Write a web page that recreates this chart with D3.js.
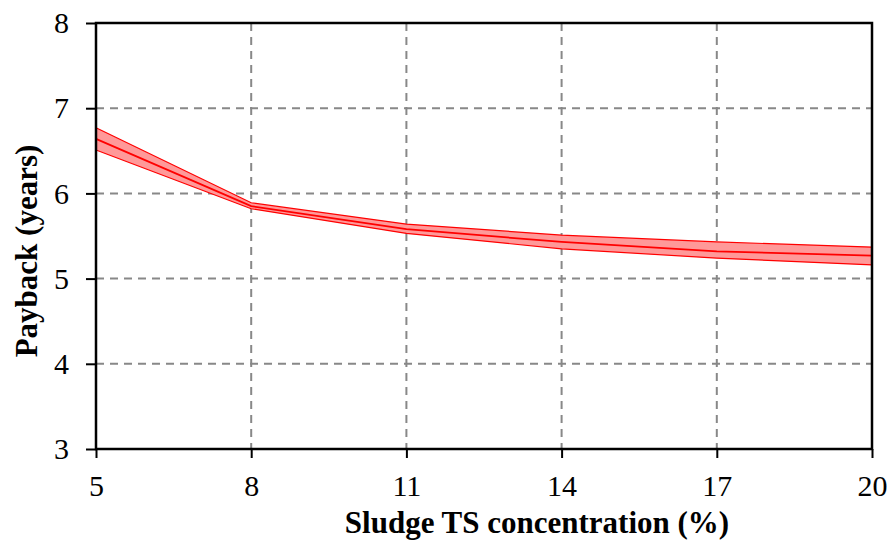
<!DOCTYPE html>
<html>
<head>
<meta charset="utf-8">
<script src="https://cdn.jsdelivr.net/npm/d3@7"></script>
<style>
  body { margin: 0; background: #fff; }
  svg { display: block; }
</style>
</head>
<body>
<div id="chart"></div>
<script>
// Donnees
var tsConc = [5, 8, 11, 14, 17, 20];
var payback = [6.64, 5.85, 5.58, 5.43, 5.32, 5.27];
var paybackHigh = [6.77, 5.89, 5.64, 5.51, 5.43, 5.37];
var paybackLow = [6.51, 5.82, 5.53, 5.35, 5.24, 5.16];
var xTicks = [5, 8, 11, 14, 17, 20];
var yTicks = [3, 4, 5, 6, 7, 8];

var serif = "'Liberation Serif', 'Times New Roman', serif";

// Dimensions
var W = 892, H = 543;
var margin = {top: 23, right: 20, bottom: 94, left: 96},
    width = 872 - margin.left,
    height = 449 - margin.top;

var svg = d3.select("#chart")
    .append("svg")
    .attr("width", W)
    .attr("height", H)
    .style("font-family", serif);

var g = svg.append("g")
    .attr("transform", "translate(" + margin.left + "," + margin.top + ")");

var x = d3.scaleLinear().domain([5, 20]).range([0, width]);
var y = d3.scaleLinear().domain([3, 8]).range([height, 0]);

// Grille
g.append("g")
    .selectAll("line")
    .data(yTicks.slice(1, -1))
    .enter()
    .append("line")
    .attr("x1", 0).attr("x2", width)
    .attr("y1", function (d) { return y(d); })
    .attr("y2", function (d) { return y(d); })
    .attr("stroke", "#888")
    .attr("stroke-width", 2)
    .attr("stroke-dasharray", "8,6");

g.append("g")
    .selectAll("line")
    .data(xTicks.slice(1, -1))
    .enter()
    .append("line")
    .attr("y1", 0).attr("y2", height)
    .attr("x1", function (d) { return x(d); })
    .attr("x2", function (d) { return x(d); })
    .attr("stroke", "#888")
    .attr("stroke-width", 2)
    .attr("stroke-dasharray", "8,6");

// Bande (min - max)
var area = d3.area()
    .x(function (d, i) { return x(tsConc[i]); })
    .y0(function (d, i) { return y(paybackLow[i]); })
    .y1(function (d, i) { return y(paybackHigh[i]); });

g.append("path")
    .datum(tsConc)
    .attr("d", area)
    .attr("fill", "#ff9999");

var line = function (vals) {
    return d3.line()
        .x(function (d, i) { return x(tsConc[i]); })
        .y(function (d) { return y(d); })(vals);
};

[paybackHigh, paybackLow].forEach(function (vals) {
    g.append("path")
        .attr("d", line(vals))
        .attr("fill", "none")
        .attr("stroke", "#ff0000")
        .attr("stroke-width", 1.2);
});

g.append("path")
    .attr("d", line(payback))
    .attr("fill", "none")
    .attr("stroke", "#ff0000")
    .attr("stroke-width", 1.8);

// Cadre
g.append("rect")
    .attr("width", width)
    .attr("height", height)
    .attr("fill", "none")
    .attr("stroke", "#000")
    .attr("stroke-width", 2.5);

// Axe X
var xAxis = g.append("g")
    .attr("transform", "translate(0," + height + ")")
    .call(d3.axisBottom(x).tickValues(xTicks).tickSize(9).tickPadding(17).tickFormat(d3.format("d")));
xAxis.attr("font-family", serif).attr("font-size", 30);
xAxis.select(".domain").remove();
xAxis.selectAll("line").attr("stroke", "#000").attr("stroke-width", 2);
xAxis.selectAll("text").attr("fill", "#000");

// Axe Y
var yAxis = g.append("g")
    .call(d3.axisLeft(y).tickValues(yTicks).tickSize(10).tickPadding(17).tickFormat(d3.format("d")));
yAxis.attr("font-family", serif).attr("font-size", 30);
yAxis.select(".domain").remove();
yAxis.selectAll("line").attr("stroke", "#000").attr("stroke-width", 2);
yAxis.selectAll("text").attr("fill", "#000");

// Titres des axes
svg.append("text")
    .attr("x", 537)
    .attr("y", 533)
    .attr("text-anchor", "middle")
    .style("font-size", "31px")
    .style("font-weight", "bold")
    .text("Sludge TS concentration (%)");

svg.append("text")
    .attr("transform", "translate(37,251) rotate(-90)")
    .attr("text-anchor", "middle")
    .style("font-size", "31px")
    .style("font-weight", "bold")
    .text("Payback (years)");
</script>
</body>
</html>
